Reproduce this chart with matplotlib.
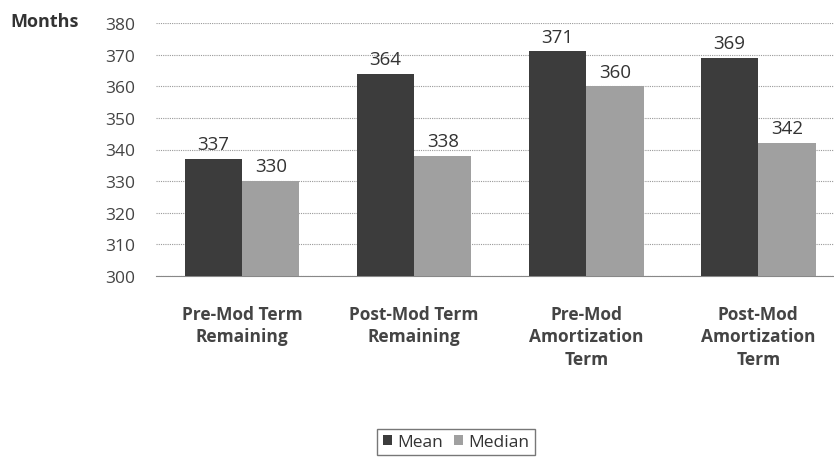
import numpy as np
import matplotlib.pyplot as plt

plt.rcParams['font.family'] = ['Open Sans', 'DejaVu Sans']

# Chart data
categories = ['Pre-Mod Term\nRemaining', 'Post-Mod Term\nRemaining',
              'Pre-Mod\nAmortization\nTerm', 'Post-Mod\nAmortization\nTerm']
mean_vals = [337, 364, 371, 369]
median_vals = [330, 338, 360, 342]
yticks = [300, 310, 320, 330, 340, 350, 360, 370, 380]

fig = plt.figure(figsize=(8.34, 4.6), dpi=100)
ax = fig.add_axes([156 / 834, 1 - 277 / 460, 1 - 156 / 834, (277 - 24) / 460])

x = np.arange(len(categories))
w = 0.333
b1 = ax.bar(x - w / 2, np.array(mean_vals) - 300, w, bottom=300,
            color='#3c3c3c', label='Mean', zorder=3)
b2 = ax.bar(x + w / 2, np.array(median_vals) - 300, w, bottom=300,
            color='#a0a0a0', label='Median', zorder=3)

for bars, vals in ((b1, mean_vals), (b2, median_vals)):
    for rect, v in zip(bars, vals):
        ax.text(rect.get_x() + rect.get_width() / 2, v + 1.8, str(v),
                ha='center', va='bottom', fontsize=13.5, color='#333333')

ax.set_ylim(300, 380)
ax.set_xlim(-0.5, 3.5 - 0.06)
ax.set_yticks(yticks)
ax.yaxis.grid(True, color='#999999', linestyle=(0, (1, 1)), linewidth=0.8, zorder=0)
ax.set_xticks(x)
ax.set_xticklabels(categories, fontsize=12.5, fontweight='bold', color='#444444',
                   linespacing=1.3)
ax.tick_params(axis='both', length=0, colors='#444444', labelsize=12.5)
ax.tick_params(axis='y', pad=15)
ax.tick_params(axis='x', pad=21)
for s in ['top', 'right', 'left']:
    ax.spines[s].set_visible(False)
ax.spines['bottom'].set_color('#888888')

fig.text(10 / 834, 1 - 22 / 460, 'Months', fontsize=13, fontweight='bold',
         color='#333333', va='center', ha='left')

leg = ax.legend(loc='upper center', bbox_to_anchor=(0.4425, -0.605), ncol=2,
                frameon=True, fontsize=12.5, handlelength=0.55, handleheight=0.55,
                handletextpad=0.3, columnspacing=0.6, borderpad=0.3,
                borderaxespad=0, fancybox=False)
leg.get_frame().set_edgecolor('#555555')
for t in leg.get_texts():
    t.set_color('#333333')

fig.savefig('out.png', dpi=100)
